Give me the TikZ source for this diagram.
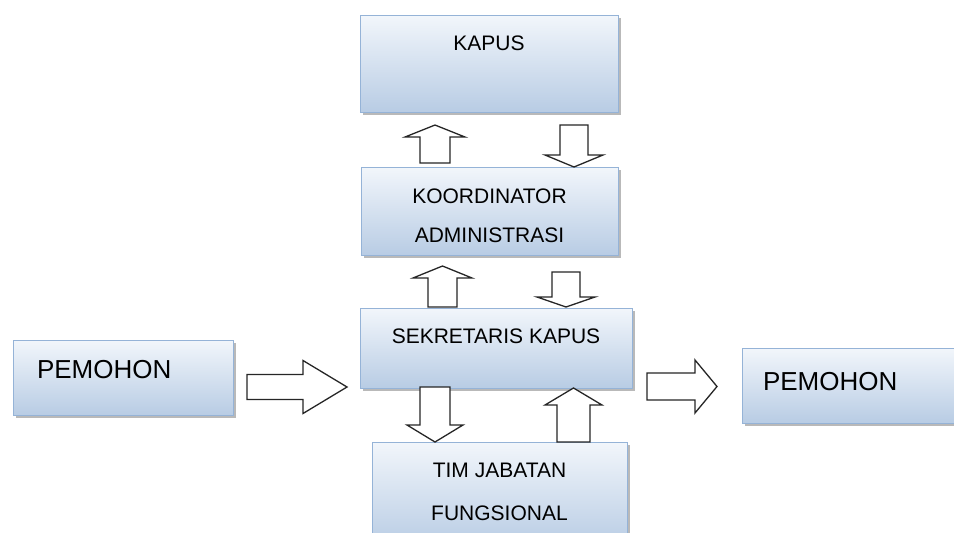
\documentclass[tikz,border=0pt]{standalone}
\usepackage{fontspec}
\setmainfont{Liberation Sans}
\usetikzlibrary{calc,shadows}

\definecolor{boxtop}{HTML}{F2F6FB}
\definecolor{boxbot}{HTML}{B8CCE4}
\definecolor{boxline}{HTML}{95B3D7}

\tikzset{
  unitbox/.style={rectangle, draw=boxline, line width=1pt, top color=boxtop, bottom color=boxbot,
    inner sep=0pt, outer sep=0pt, anchor=north west, align=center,
    font=\fontsize{21}{39}\selectfont,
    drop shadow={shadow xshift=2.5pt, shadow yshift=-3pt, fill=black!50, opacity=.55}},
  applicant/.style={unitbox, align=left, font=\fontsize{26}{30}\selectfont},
  % hollow block arrow: shaft half width, head half width, head length
  blockarrow/.style n args={3}{draw=black!85, fill=white, line width=1.3pt, line join=miter,
    to path={let \p1=(\tikztostart), \p2=(\tikztotarget), \p3=($(\p2)!#3pt!(\p1)$) in
      ($(\p1)!#1pt!90:(\p2)$) -- ($(\p3)!#1pt!90:(\p2)$) -- ($(\p3)!#2pt!90:(\p2)$) -- (\p2)
      -- ($(\p3)!#2pt!-90:(\p2)$) -- ($(\p3)!#1pt!-90:(\p2)$) -- ($(\p1)!#1pt!-90:(\p2)$) -- cycle}}
}

\begin{document}
\begin{tikzpicture}[x=1pt, y=-1pt]
  \clip (0,0) rectangle (954,533);
  \fill[white] (0,0) rectangle (954,533);

  % boxes
  \node[unitbox, minimum width=258pt, text height=35.5pt, text depth=61.5pt] (kapus) at (360,15) {KAPUS};
  \node[unitbox, minimum width=257pt, text height=75pt, text depth=13pt] (koord) at (361,167) {KOORDINATOR\\ADMINISTRASI};
  \node[unitbox, minimum width=272pt, text height=35pt, text depth=45pt] (sekre) at (360,308) {SEKRETARIS KAPUS};
  \node[unitbox, minimum width=255pt, text height=78pt, text depth=27pt, font=\fontsize{21}{43}\selectfont] (tim) at (372,442) {TIM JABATAN\\FUNGSIONAL};
  \node[applicant, inner xsep=24pt, text width=172pt, text height=38pt, text depth=37pt] (pemin) at (13,340) {PEMOHON};
  \node[applicant, inner xsep=21pt, text width=220pt, text height=42pt, text depth=33pt] (pemout) at (742,348) {PEMOHON};

  % arrows
  \draw[blockarrow={15}{30}{12}] ($(koord.north west)+(74,-4)$) to ($(kapus.south west)+(75,13)$);
  \draw[blockarrow={14}{29}{12}] ($(kapus.south west)+(214,13)$) to ($(koord.north west)+(213,0)$);
  \draw[blockarrow={14.5}{29.5}{12}] ($(sekre.north west)+(82.5,-1)$) to ($(koord.south west)+(81.5,11)$);
  \draw[blockarrow={14}{29}{10}] ($(koord.south west)+(205,17)$) to ($(sekre.north west)+(206,-1)$);
  \draw[blockarrow={15}{28}{17}] ($(sekre.south west)+(75,-1)$) to ($(tim.north west)+(63,0)$);
  \draw[blockarrow={16.5}{28.5}{17}] ($(tim.north west)+(201.5,0)$) to ($(sekre.south west)+(213.5,0)$);
  \draw[blockarrow={12.5}{26.5}{44}] ($(pemin.north east)+(14,47)$) to ($(sekre.north west)+(-13,79)$);
  \draw[blockarrow={13.5}{26.5}{22}] ($(sekre.north east)+(15,78.5)$) to ($(pemout.north west)+(-25,38.5)$);
\end{tikzpicture}
\end{document}
